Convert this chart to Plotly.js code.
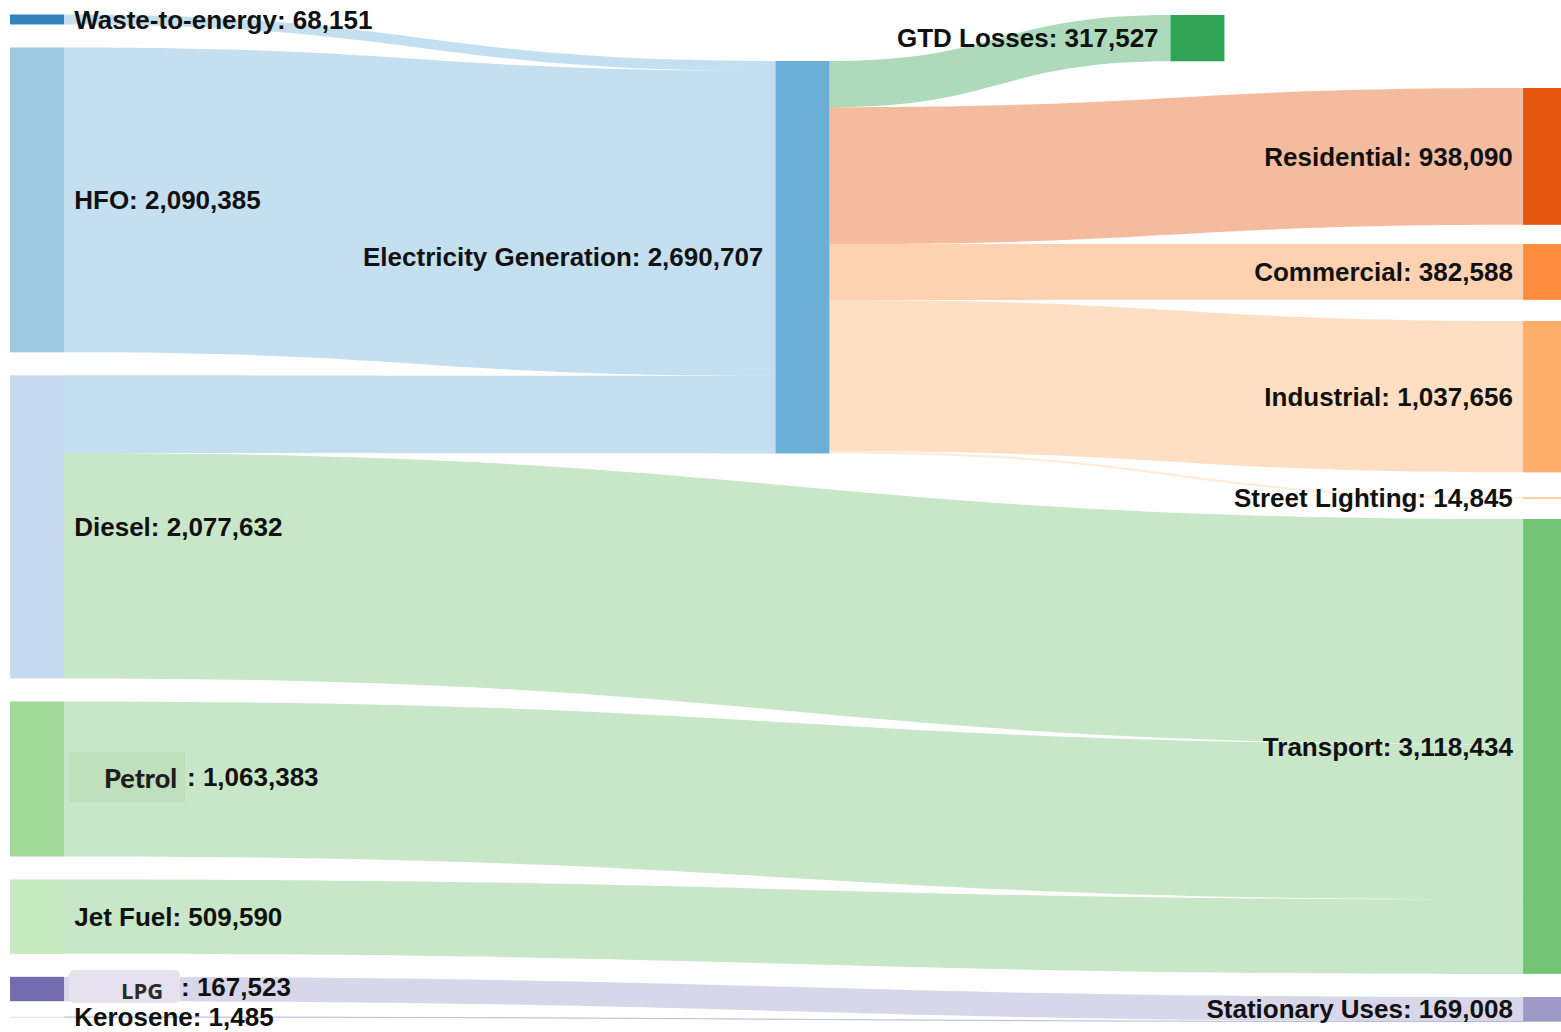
<!DOCTYPE html>
<html>
<head>
<meta charset="utf-8">
<script src="https://cdn.plot.ly/plotly-3.0.1.min.js"></script>
<style>html,body{margin:0;padding:0;background:#fff;}#chart{width:1561px;height:1032px;}</style>
</head>
<body>
<div id="chart"></div>
<script>
// ---- data ----
var nodeNames = ["Waste-to-energy", "HFO", "Diesel", "Petrol", "Jet Fuel", "LPG", "Kerosene",
  "Electricity Generation", "GTD Losses", "Residential", "Commercial", "Industrial",
  "Street Lighting", "Transport", "Stationary Uses"];
var nodeTotals = [68151, 2090385, 2077632, 1063383, 509590, 167523, 1485,
  2690707, 317527, 938090, 382588, 1037656, 14845, 3118434, 169008];
var linkSource = [0, 1, 2, 2, 3, 4, 5, 6, 7, 7, 7, 7, 7];
var linkTarget = [7, 7, 7, 13, 13, 13, 14, 14, 8, 9, 10, 11, 12];
var linkValue  = [68151, 2090385, 532171, 1545461, 1063383, 509590, 167523, 1485,
  317527, 938090, 382588, 1037656, 14845];
// labels drawn separately (boxed names, or middle nodes whose label sits on the left)
var boxedNames = ["Petrol", "LPG"];
var leftLabelNames = ["Electricity Generation", "GTD Losses"];

// ---- styles ----
var nodeColors = ["#3182bd", "#9ecae1", "#c6dbef", "#a1d99b", "#c7e9c0", "#756bb1", "#bcbddc",
  "#6baed6", "#31a354", "#e6550d", "#fd8d3c", "#fdae6b", "#fdd0a2", "#74c476", "#9e9ac8"];
var nodeX = [0.0237, 0.0237, 0.0237, 0.0237, 0.0237, 0.0237, 0.0237,
  0.5141, 0.7671, 0.993, 0.993, 0.993, 0.993, 0.993, 0.993];
var nodeY = [0.00542, 0.18405, 0.50778, 0.75737, 0.89372, 0.96538, 0.9931,
  0.24079, 0.02391, 0.1410, 0.2554, 0.3789, 0.4792, 0.7252, 0.9855];

function fmt(v) { return v.toLocaleString('en-US'); }
function hexA(h, a) {
  var r = parseInt(h.substr(1, 2), 16), g = parseInt(h.substr(3, 2), 16), b = parseInt(h.substr(5, 2), 16);
  return 'rgba(' + r + ',' + g + ',' + b + ',' + a + ')';
}

var GAP = '\u00a0';
var labels = nodeNames.map(function (n, i) {
  if (boxedNames.indexOf(n) >= 0 || leftLabelNames.indexOf(n) >= 0) return '';
  var t = n + ': ' + fmt(nodeTotals[i]);
  return nodeX[i] < 0.5 ? GAP + t : t + GAP;
});
var linkColors = linkTarget.map(function (t) { return hexA(nodeColors[t], 0.4); });

var FONT = 'Arial, "Liberation Sans", sans-serif';
var trace = {
  type: 'sankey',
  arrangement: 'fixed',
  node: {
    label: labels,
    color: nodeColors,
    x: nodeX,
    y: nodeY,
    pad: 23,
    thickness: 54,
    line: { width: 0, color: 'rgba(0,0,0,0)' }
  },
  link: {
    source: linkSource,
    target: linkTarget,
    value: linkValue,
    color: linkColors
  },
  textfont: { family: FONT, size: 26, color: '#111', weight: 'bold', shadow: 'none' }
};

var iP = nodeNames.indexOf('Petrol'), iL = nodeNames.indexOf('LPG');
var iE = nodeNames.indexOf('Electricity Generation'), iG = nodeNames.indexOf('GTD Losses');
var W = 1561, H = 1010, T = 14;
function px(x) { return x / W; }
function py(y) { return 1 - (y - T) / H; }
var lblFont = { family: FONT, size: 26, color: '#111', weight: 'bold' };

var r = 6;
var lx0 = px(69), lx1 = px(180), ly0 = py(1003), ly1 = py(970), rx = r / W, ry = r / H;
var lpgPath = 'M ' + (lx0 + rx) + ' ' + ly1 + ' L ' + (lx1 - rx) + ' ' + ly1 + ' Q ' + lx1 + ' ' + ly1 + ' ' + lx1 + ' ' + (ly1 - ry) +
  ' L ' + lx1 + ' ' + (ly0 + ry) + ' Q ' + lx1 + ' ' + ly0 + ' ' + (lx1 - rx) + ' ' + ly0 +
  ' L ' + (lx0 + rx) + ' ' + ly0 + ' Q ' + lx0 + ' ' + ly0 + ' ' + lx0 + ' ' + (ly0 + ry) +
  ' L ' + lx0 + ' ' + (ly1 - ry) + ' Q ' + lx0 + ' ' + ly1 + ' ' + (lx0 + rx) + ' ' + ly1 + ' Z';

var layout = {
  width: 1561,
  height: 1032,
  margin: { l: 0, r: 0, t: 14, b: 8, pad: 0 },
  paper_bgcolor: '#ffffff',
  showlegend: false,
  shapes: [
    { type: 'rect', xref: 'paper', yref: 'paper', x0: px(69), x1: px(185), y0: py(802), y1: py(752),
      fillcolor: '#c0dfbd', line: { width: 0 }, layer: 'above' },
    { type: 'path', xref: 'paper', yref: 'paper', path: lpgPath,
      fillcolor: '#e6e1ee', line: { width: 0 }, layer: 'above' }
  ],
  annotations: [
    { xref: 'paper', yref: 'paper', x: px(765), y: py(257), xanchor: 'right', yanchor: 'middle', showarrow: false,
      text: nodeNames[iE] + ': ' + fmt(nodeTotals[iE]), font: lblFont },
    { xref: 'paper', yref: 'paper', x: px(1161), y: py(38), xanchor: 'right', yanchor: 'middle', showarrow: false,
      text: nodeNames[iG] + ': ' + fmt(nodeTotals[iG]), font: lblFont },
    { xref: 'paper', yref: 'paper', x: px(140.5), y: py(777), xanchor: 'center', yanchor: 'middle', showarrow: false,
      text: nodeNames[iP], font: { family: 'Lato, "Open Sans", sans-serif', size: 27, color: '#1e1e1e', weight: 900 } },
    { xref: 'paper', yref: 'paper', x: px(185), y: py(777), xanchor: 'left', yanchor: 'middle', showarrow: false,
      text: ': ' + fmt(nodeTotals[iP]), font: lblFont },
    { xref: 'paper', yref: 'paper', x: px(142), y: py(990), xanchor: 'center', yanchor: 'middle', showarrow: false,
      text: nodeNames[iL], font: { family: '"Open Sans", Lato, sans-serif', size: 22, color: '#2a2a2a', weight: 700 } },
    { xref: 'paper', yref: 'paper', x: px(179), y: py(987), xanchor: 'left', yanchor: 'middle', showarrow: false,
      text: ': ' + fmt(nodeTotals[iL]), font: lblFont }
  ]
};

Plotly.newPlot('chart', [trace], layout, { displayModeBar: false });
</script>
</body>
</html>
